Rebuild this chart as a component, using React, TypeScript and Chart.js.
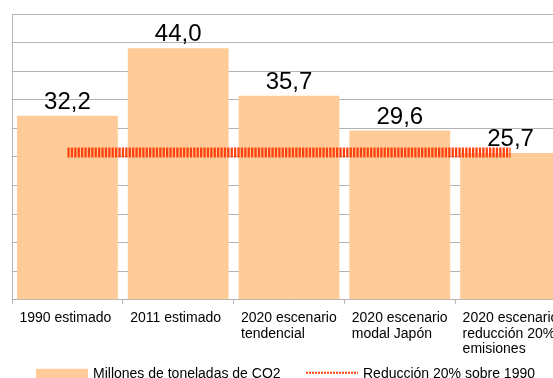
import React, { useEffect, useRef } from "react";
import { Chart, registerables } from "chart.js";

Chart.register(...registerables);

// ---- data ----
const categories: string[][] = [
  ["1990 estimado"],
  ["2011 estimado"],
  ["2020 escenario", "tendencial"],
  ["2020 escenario", "modal Japón"],
  ["2020 escenario", "reducción 20%", "emisiones"],
];
const emisiones: number[] = [32.2, 44.0, 35.7, 29.6, 25.7];
const reduccion20: number[] = [25.76, 25.76, 25.76, 25.76, 25.76];
const seriesNames: string[] = ["Millones de toneladas de CO2", "Reducción 20% sobre 1990"];
const yMin = 0;
const yMax = 50;
const yStep = 5;

// ---- styles ----
const FONT = '"Liberation Sans", Arial, sans-serif';
const BAR_COLOR = "#ffcc99";
const LINE_COLOR = "#ff420e";
const GRID_COLOR = "#b3b3b3";

const valueLabels = {
  id: "valueLabels",
  afterDatasetsDraw(chart: any) {
    const meta = chart.getDatasetMeta(0);
    const ctx = chart.ctx;
    ctx.save();
    ctx.font = `24px ${FONT}`;
    ctx.fillStyle = "#000";
    ctx.textAlign = "center";
    ctx.textBaseline = "alphabetic";
    meta.data.forEach((el: any, i: number) => {
      const v = chart.data.datasets[0].data[i] as number;
      ctx.fillText(v.toFixed(1).replace(".", ","), el.x, el.y - 7);
    });
    ctx.restore();
  },
};

const manualLegend = {
  id: "manualLegend",
  afterDraw(chart: any) {
    const { ctx, chartArea } = chart;
    const y = chartArea.bottom + 74;
    const l = chartArea.left;
    ctx.save();
    ctx.fillStyle = BAR_COLOR;
    ctx.fillRect(l + 24, y - 5, 52, 10);
    ctx.font = `14px ${FONT}`;
    ctx.fillStyle = "#000";
    ctx.textBaseline = "middle";
    ctx.textAlign = "left";
    ctx.fillText(chart.data.datasets[0].label, l + 81, y);
    ctx.strokeStyle = LINE_COLOR;
    ctx.lineWidth = 2;
    ctx.setLineDash([2, 1]);
    ctx.beginPath();
    ctx.moveTo(l + 294, y - 1);
    ctx.lineTo(l + 346, y - 1);
    ctx.stroke();
    ctx.setLineDash([]);
    ctx.fillText(chart.data.datasets[1].label, l + 351, y);
    ctx.restore();
  },
};

export default function App() {
  const ref = useRef<HTMLCanvasElement | null>(null);

  useEffect(() => {
    if (!ref.current) return;
    const chart = new Chart(ref.current, {
      type: "bar",
      data: {
        labels: categories,
        datasets: [
          {
            type: "bar",
            label: seriesNames[0],
            data: emisiones,
            backgroundColor: BAR_COLOR,
            borderWidth: 0,
            barPercentage: 0.91,
            categoryPercentage: 1,
            order: 1,
          },
          {
            type: "line",
            label: seriesNames[1],
            data: reduccion20,
            borderColor: LINE_COLOR,
            backgroundColor: LINE_COLOR,
            borderWidth: 10,
            borderDash: [2.3, 1.1],
            borderCapStyle: "butt",
            pointRadius: 0,
            fill: false,
            order: 0,
          } as any,
        ],
      },
      options: {
        responsive: false,
        animation: false,
        devicePixelRatio: 1,
        layout: { padding: { left: 12, top: 14, right: 0, bottom: 35 } },
        plugins: {
          legend: { display: false },
          tooltip: { enabled: false },
        },
        scales: {
          x: {
            offset: true,
            grid: {
              display: true,
              drawOnChartArea: false,
              drawTicks: true,
              tickLength: 4,
              color: GRID_COLOR,
              offset: true,
            },
            border: { color: GRID_COLOR },
            ticks: {
              autoSkip: false,
              maxRotation: 0,
              minRotation: 0,
              align: "start",
              labelOffset: -48,
              padding: 7,
              color: "#000",
              font: { family: FONT, size: 14, lineHeight: 1.1 },
            },
            afterFit(scale: any) {
              scale.paddingLeft = 0;
              scale.paddingRight = 0;
            },
          },
          y: {
            min: yMin,
            max: yMax,
            ticks: { stepSize: yStep, display: false },
            grid: { color: GRID_COLOR, drawTicks: false },
            border: { color: GRID_COLOR },
          },
        },
      },
      plugins: [valueLabels, manualLegend],
    });
    return () => chart.destroy();
  }, []);

  return (
    <div
      style={{
        position: "fixed",
        left: 0,
        top: 0,
        width: 553,
        height: 378,
        overflow: "hidden",
        background: "#fff",
      }}
    >
      <canvas
        ref={ref}
        width={566}
        height={399}
        style={{ display: "block", width: 566, height: 399 }}
      />
    </div>
  );
}
